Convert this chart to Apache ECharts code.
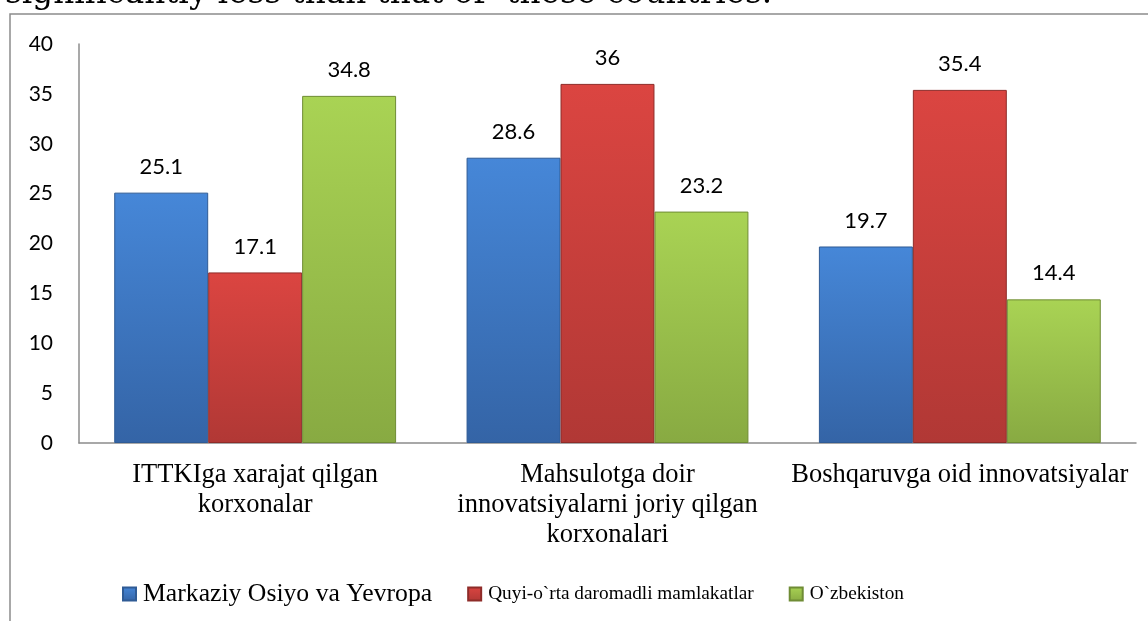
<!DOCTYPE html>
<html>
<head>
<meta charset="utf-8">
<script src="https://cdn.jsdelivr.net/npm/echarts@6/dist/echarts.min.js"></script>
<style>
  html, body { margin: 0; padding: 0; background: #fff; }
  #chart { width: 1148px; height: 621px; }
</style>
</head>
<body>
<div id="chart"></div>
<script>
// chart data
const categories = [
  "ITTKIga xarajat qilgan\nkorxonalar",
  "Mahsulotga doir\ninnovatsiyalarni joriy qilgan\nkorxonalari",
  "Boshqaruvga oid innovatsiyalar"
];
const seriesNames = [
  "Markaziy Osiyo va Yevropa",
  "Quyi-o`rta daromadli mamlakatlar",
  "O`zbekiston"
];
const centralAsiaEurope = [25.1, 28.6, 19.7];
const lowerMiddleIncome = [17.1, 36, 35.4];
const uzbekistan = [34.8, 23.2, 14.4];
const yTicks = [0, 5, 10, 15, 20, 25, 30, 35, 40];

// bar colours (top, bottom, border)
const colors = [
  ["#4687d8", "#3464a6", "#2f5b95"],
  ["#db4541", "#b13835", "#8e2c29"],
  ["#a9d354", "#88aa42", "#6f8c35"]
];

function grad(c) {
  return new echarts.graphic.LinearGradient(0, 0, 0, 1, [
    { offset: 0, color: c[0] },
    { offset: 1, color: c[1] }
  ]);
}

const chart = echarts.init(document.getElementById("chart"));

const values = [centralAsiaEurope, lowerMiddleIncome, uzbekistan];

chart.setOption({
  animation: false,
  grid: { left: 79, right: 12, top: 44, bottom: 178 },
  graphic: [
    {
      type: "text",
      x: 5,
      y: 11,
      style: {
        text: "significantly less than that of  these countries.",
        font: "32.7px 'DejaVu Serif'",
        fill: "#000",
        verticalAlign: "bottom"
      }
    },
    {
      type: "polyline",
      shape: { points: [[10, 640], [10, 14], [1160, 14]] },
      style: { stroke: "#8c8c8c", lineWidth: 1.5, fill: null }
    }
  ],
  legend: {
    left: 117,
    top: 576,
    itemWidth: 13,
    itemHeight: 13,
    itemGap: 35,
    icon: "rect",
    data: seriesNames,
    // the first legend entry is drawn wider than the other two in the source
    formatter: (name) => (name === seriesNames[0] ? "{a|" + name + "}" : "{b|" + name + "}"),
    textStyle: {
      fontFamily: "Liberation Serif",
      color: "#000",
      padding: [0, 0, 0, 2],
      rich: {
        a: { fontFamily: "Liberation Serif", fontSize: 25.7, color: "#000" },
        b: { fontFamily: "Liberation Serif", fontSize: 19.3, color: "#000" }
      }
    }
  },
  xAxis: {
    type: "category",
    data: categories,
    axisLine: { lineStyle: { color: "#8c8c8c", width: 1.5 } },
    axisTick: { show: false },
    axisLabel: {
      interval: 0,
      margin: 17,
      verticalAlign: "top",
      fontFamily: "Liberation Serif",
      fontSize: 26.5,
      lineHeight: 30,
      color: "#000"
    }
  },
  yAxis: {
    type: "value",
    min: yTicks[0],
    max: yTicks[yTicks.length - 1],
    interval: 5,
    splitLine: { show: false },
    axisLine: { show: true, lineStyle: { color: "#8c8c8c", width: 1.5 } },
    axisTick: { show: false },
    axisLabel: {
      margin: 26,
      fontFamily: "Lato",
      fontSize: 21,
      color: "#000"
    }
  },
  series: seriesNames.map((name, i) => ({
    name: name,
    type: "bar",
    data: values[i],
    barGap: "0%",
    barCategoryGap: "20%",
    itemStyle: {
      color: grad(colors[i]),
      borderColor: colors[i][2],
      borderWidth: 1
    },
    label: {
      show: true,
      position: "top",
      distance: 15,
      fontFamily: "Lato",
      fontSize: 22,
      color: "#000"
    }
  }))
});
</script>
</body>
</html>
